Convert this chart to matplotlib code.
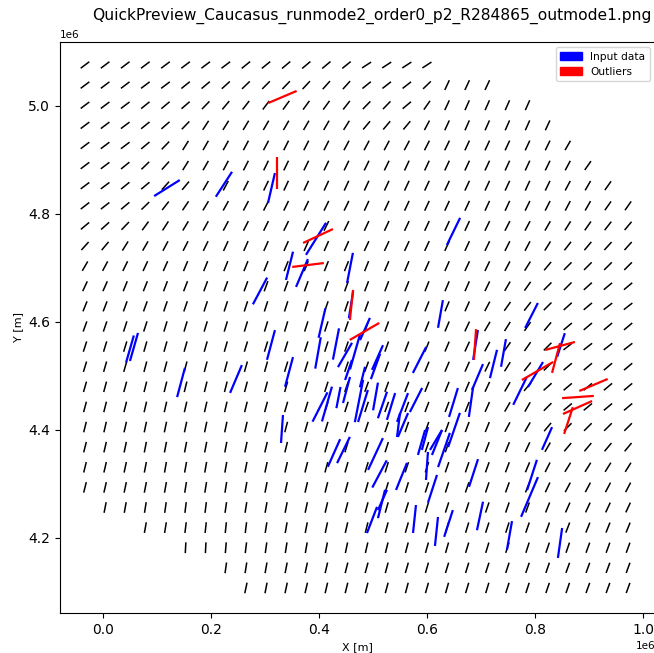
import numpy as np
import matplotlib
matplotlib.use('Agg')
import matplotlib.pyplot as plt
import matplotlib.patches as mpatches
from matplotlib.collections import LineCollection

title = 'QuickPreview_Caucasus_runmode2_order0_p2_R284865_outmode1.png'

# interpolated SHmax grid, km
grid_x0 = -33.3
grid_y0 = 5075.9
grid_step = 37.25
grid_len = 20.0
row_first_col = [0] * 22 + [1, 3, 5, 7, 8]
grid_azi = [
    [53, 53, 53, 53, 53, 53, 53, 53, 51, 51, 50, 50, 50, 51, 57, 57, 57, 57],
    [53, 53, 53, 53, 53, 51, 50, 48, 46, 45, 44, 43, 42, 42, 51, 52, 52, 46, 25, 25, 25],
    [53, 53, 53, 51, 50, 49, 44, 40, 38, 37, 36, 36, 36, 38, 44, 44, 50, 35, 25, 24, 24, 24, 24],
    [53, 53, 53, 51, 49, 44, 33, 32, 31, 30, 30, 30, 30, 32, 40, 40, 40, 28, 25, 24, 24, 24, 24, 25],
    [53, 53, 53, 50, 44, 32, 30, 29, 28, 28, 27, 27, 27, 28, 28, 28, 28, 27, 26, 25, 25, 25, 25, 26, 30],
    [53, 53, 51, 46, 42, 32, 30, 28, 27, 26, 26, 26, 26, 26, 26, 26, 25, 25, 25, 25, 25, 25, 25, 26, 28, 35],
    [53, 53, 51, 50, 42, 40, 30, 28, 27, 26, 25, 25, 25, 25, 25, 25, 25, 25, 25, 25, 25, 25, 25, 26, 28, 30, 35],
    [52, 52, 50, 46, 38, 34, 31, 29, 28, 27, 26, 26, 26, 26, 25, 25, 25, 25, 25, 25, 25, 25, 26, 27, 28, 30, 35, 35],
    [50, 48, 44, 36, 33, 31, 29, 28, 27, 26, 26, 26, 26, 26, 25, 25, 25, 25, 25, 25, 26, 27, 28, 30, 32, 35, 38, 40],
    [42, 40, 32, 30, 28, 27, 26, 25, 24, 24, 24, 24, 24, 24, 25, 25, 25, 25, 25, 25, 26, 27, 28, 32, 38, 40, 42, 42],
    [30, 28, 26, 25, 24, 23, 22, 22, 22, 22, 22, 22, 22, 22, 22, 23, 23, 24, 24, 25, 26, 28, 32, 40, 45, 45, 45, 45],
    [25, 24, 22, 22, 21, 21, 20, 20, 20, 20, 20, 20, 20, 20, 21, 21, 22, 22, 23, 24, 26, 30, 35, 45, 45, 48, 50, 50],
    [22, 21, 20, 20, 19, 19, 18, 18, 18, 18, 18, 18, 19, 19, 20, 20, 21, 22, 23, 24, 28, 35, 38, 45, 48, 50, 52, 52],
    [20, 19, 18, 18, 17, 17, 17, 17, 17, 17, 17, 18, 18, 19, 20, 20, 21, 22, 23, 25, 30, 32, 35, 40, 50, 50, 50, 50],
    [18, 17, 17, 16, 16, 16, 16, 16, 17, 17, 17, 18, 18, 19, 20, 20, 21, 22, 23, 25, 28, 35, 35, 45, 52, 52, 52, 52],
    [17, 16, 16, 15, 15, 15, 15, 15, 16, 16, 17, 17, 18, 19, 20, 20, 21, 22, 23, 24, 26, 32, 38, 45, 50, 50, 50, 50],
    [16, 15, 15, 14, 14, 14, 14, 14, 15, 15, 16, 17, 18, 19, 20, 20, 21, 22, 22, 23, 25, 30, 40, 48, 50, 50, 50, 50],
    [15, 14, 14, 13, 13, 13, 13, 13, 14, 15, 16, 17, 18, 18, 19, 20, 20, 21, 21, 22, 24, 30, 30, 45, 50, 50, 50, 50],
    [14, 13, 13, 12, 12, 12, 12, 12, 13, 14, 15, 16, 17, 18, 18, 19, 19, 20, 20, 21, 22, 28, 30, 40, 45, 45, 45, 45],
    [14, 13, 12, 11, 11, 11, 11, 11, 12, 13, 14, 15, 16, 17, 17, 18, 18, 19, 19, 20, 21, 22, 25, 30, 40, 40, 40, 40],
    [14, 13, 12, 11, 10, 10, 10, 10, 11, 12, 13, 14, 15, 16, 17, 17, 18, 18, 19, 19, 20, 21, 23, 27, 32, 32, 32, 32],
    [14, 13, 12, 11, 10, 9, 9, 9, 10, 11, 12, 13, 14, 15, 16, 17, 17, 18, 18, 19, 19, 20, 22, 25, 28, 28, 28, 28],
    [11, 10, 9, 8, 7, 7, 8, 9, 10, 11, 12, 13, 14, 15, 16, 17, 17, 18, 18, 19, 19, 20, 22, 24, 25, 25, 25],
    [10, 9, 7, 6, 6, 7, 9, 10, 11, 12, 13, 14, 15, 16, 16, 17, 17, 18, 18, 19, 20, 21, 22, 22, 22],
    [3, 3, 5, 7, 8, 9, 10, 11, 12, 13, 14, 15, 16, 16, 17, 17, 18, 18, 19, 19, 20, 20, 20],
    [8, 9, 10, 11, 12, 13, 14, 15, 15, 16, 16, 17, 17, 18, 18, 19, 19, 20, 20, 20, 20],
    [12, 11, 12, 13, 13, 14, 14, 15, 15, 16, 16, 17, 17, 18, 18, 19, 19, 20, 20, 20],
]

# input data: x, y (km), SHmax azimuth (deg), plotted length (km)
data_x = [118.5, 224.0, 312.0, 394.5, 345.4, 368.5, 290.8, 457.4, 459.3, 485.2,
          405.6, 398.2, 431.5, 466.7, 448.2, 508.4, 311.1, 344.5, 414.8, 401.9,
          451.0, 474.1, 504.7, 517.6, 533.4, 331.5, 427.8, 445.4, 504.7, 512.1,
          517.6, 498.2, 625.0, 586.2, 689.9, 723.2, 741.7, 693.6, 681.5, 772.3,
          579.7, 555.6, 554.7, 649.1, 650.1, 616.7, 596.3, 793.6, 848.2, 801.0,
          822.3, 589.9, 631.5, 600.0, 552.8, 610.2, 686.2, 576.9, 617.6, 639.9,
          698.2, 752.8, 794.5, 789.9, 846.4, 57.4, 50.0, 144.5, 246.3, 649.1,
          454.7, 504.7, 481.5, 436.1, 547.3, 480.6, 515.8, 618.6]
data_y = [4848.0, 4855.0, 4848.0, 4754.0, 4704.0, 4690.7, 4657.4, 4700.0, 4631.5, 4587.0,
          4598.0, 4542.6, 4559.2, 4544.4, 4538.9, 4534.2, 4557.4, 4507.4, 4448.0, 4442.5,
          4474.0, 4453.7, 4462.0, 4446.3, 4443.5, 4401.8, 4357.4, 4362.9, 4355.5, 4318.5,
          4270.3, 4233.3, 4614.8, 4529.6, 4557.4, 4522.2, 4542.6, 4498.1, 4451.8, 4472.2,
          4455.5, 4409.2, 4441.6, 4450.9, 4400.0, 4381.4, 4384.2, 4612.0, 4557.4, 4502.7,
          4384.2, 4376.8, 4362.9, 4333.3, 4313.9, 4291.0, 4320.3, 4235.1, 4212.0, 4226.8,
          4240.7, 4204.6, 4316.6, 4275.9, 4190.7, 4553.7, 4550.0, 4487.9, 4494.4, 4767.6,
          4511.0, 4517.6, 4444.4, 4460.0, 4409.2, 4498.0, 4262.9, 4376.8]
data_azi = [58, 33, 13, 32, 14, 23, 28, 11, 9, 24,
            13, 10, 11, 16, 30, 24, 15, 15, 16, 27,
            15, 11, 10, 19, 17, 4, 24, 26, 25, 28,
            24, 21, 10, 27, 9, 14, 10, 23, 8, 26,
            27, 23, 21, 17, 19, 31, 15, 27, 18, 31,
            24, 16, 19, 4, 22, 18, 18, 6, 6, 18,
            12, 10, 18, 23, 8, 16, 16, 15, 23, 26,
            19, 20, 17, 11, 7, 14, 14, 22]
data_len = [56, 55, 57, 70, 54, 56, 56, 57, 50, 45,
            56, 59, 59, 67, 52, 50, 57, 57, 67, 61,
            50, 80, 52, 52, 52, 52, 56, 54, 65, 57,
            41, 52, 52, 54, 56, 54, 52, 52, 56, 57,
            50, 48, 57, 56, 67, 43, 44, 52, 46, 54,
            46, 48, 67, 52, 54, 54, 54, 52, 54, 52,
            54, 54, 59, 80, 56, 54, 52, 56, 56, 56,
            39, 50, 62, 40, 45, 39, 54, 50]

# outliers
out_x = [332.4, 322.2, 398.2, 379.7, 460.2, 484.3, 688.9, 846.4, 839.0, 804.7, 879.7, 908.4, 878.8, 862.1]
out_y = [5016.7, 4875.9, 4759.2, 4705.5, 4631.5, 4582.4, 4558.3, 4555.5, 4533.3, 4509.2, 4461.0, 4483.3, 4441.6, 4417.5]
out_azi = [67, 0, 65, 83, 6, 60, 4, 75, 15, 60, 86, 67, 66, 18]
out_len = [57, 59, 61, 59, 56, 63, 57, 57, 57, 67, 59, 57, 59, 52]


def sticks(x, y, azi, length):
    x = np.asarray(x, float) * 1e3
    y = np.asarray(y, float) * 1e3
    a = np.radians(azi)
    h = 0.5 * np.asarray(length, float) * 1e3
    dx, dy = h * np.sin(a), h * np.cos(a)
    p0 = np.column_stack([x - dx, y - dy])
    p1 = np.column_stack([x + dx, y + dy])
    return np.stack([p0, p1], axis=1)


gx, gy, ga = [], [], []
for i, row in enumerate(grid_azi):
    for j, a in enumerate(row):
        gx.append(grid_x0 + (row_first_col[i] + j) * grid_step)
        gy.append(grid_y0 - i * grid_step)
        ga.append(a)

fig = plt.figure(figsize=(6.54, 6.53), dpi=100)
ax = fig.add_axes([60 / 654, 40 / 653, 595 / 654, 571 / 653])

ax.add_collection(LineCollection(sticks(gx, gy, ga, [grid_len] * len(gx)),
                                 colors='black', linewidths=1.1))
ax.add_collection(LineCollection(sticks(data_x, data_y, data_azi, data_len),
                                 colors='blue', linewidths=1.6))
ax.add_collection(LineCollection(sticks(out_x, out_y, out_azi, out_len),
                                 colors='red', linewidths=1.6))

ax.set_xlim(-79.6e3, 1022.3e3)
ax.set_ylim(4061e3, 5118.5e3)
ax.ticklabel_format(style='sci', axis='both', scilimits=(0, 0))
ax.tick_params(labelsize=10)
ax.xaxis.get_offset_text().set_fontsize(7.5)
ax.yaxis.get_offset_text().set_fontsize(7.5)
ax.set_xlabel('X [m]', fontsize=8)
ax.set_ylabel('Y [m]', fontsize=8)
ax.set_title(title, fontsize=11.2, x=0.524, pad=16)

handles = [mpatches.Patch(color='blue', label='Input data'),
           mpatches.Patch(color='red', label='Outliers')]
ax.legend(handles=handles, loc='upper right', fontsize=7.7)

fig.savefig('out.png', dpi=100)
